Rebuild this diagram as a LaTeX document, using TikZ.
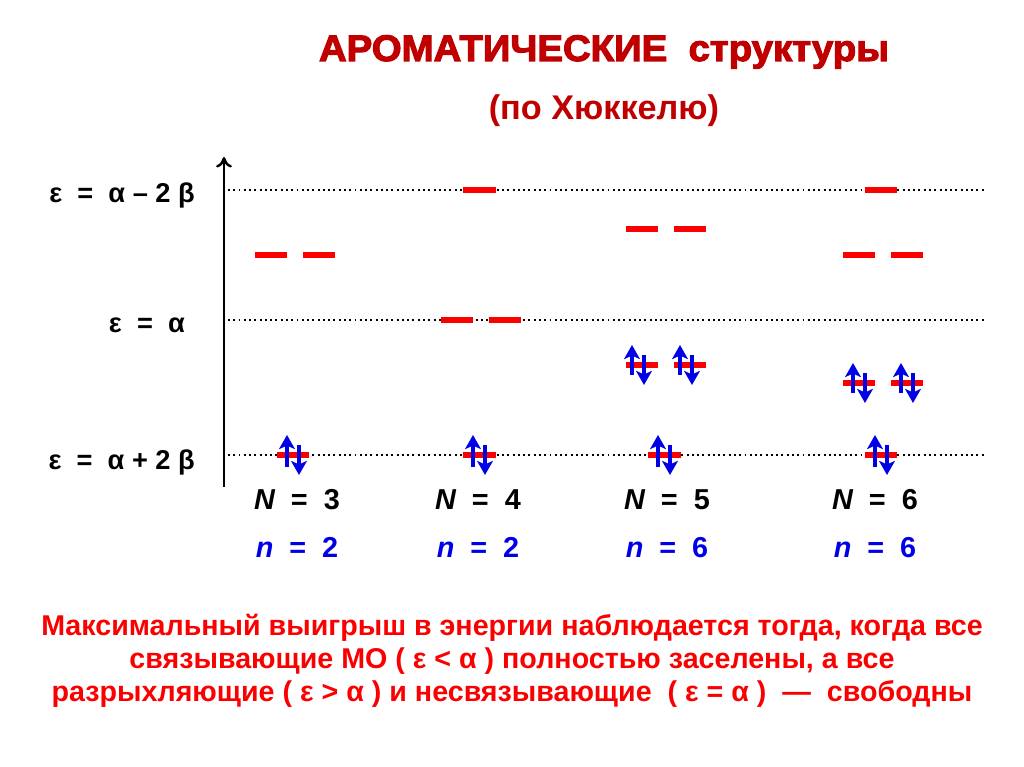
\documentclass[tikz,border=0pt]{standalone}
\usepackage{fontspec}
\setmainfont{Liberation Sans}
\newfontfamily\heavyfont[FakeStretch=1.04,FakeBold=3]{Liberation Sans Bold}
\usetikzlibrary{positioning,arrows.meta}
\definecolor{titlered}{RGB}{192,0,0}
\definecolor{levelred}{RGB}{250,0,0}
\definecolor{spinblue}{RGB}{0,0,230}

\begin{document}
\begin{tikzpicture}[
    x=0.02cm, y=-0.02cm,
    orbital/.style={draw=levelred, line width=3.4pt},
    spin/.style={-{Stealth[length=8pt, width=9pt, inset=2pt]}, draw=spinblue, line width=1.8pt},
    guide/.style={line width=1.1pt, dash pattern=on 1.1pt off 1.9pt},
    elabel/.style={anchor=base east, font=\bfseries\fontsize{15.5}{18}\selectfont},
    count/.style={anchor=base, font=\bfseries\itshape\fontsize{16.4}{19}\selectfont},
  ]
  \useasboundingbox (0,0) rectangle (1024,767);

  % Title
  \node[anchor=base, text=titlered, font=\heavyfont\fontsize{21}{24}\selectfont] (title) at (604,61)
    {АРОМАТИЧЕСКИЕ\ \ структуры};
  \node[anchor=base, text=titlered, font=\bfseries\fontsize{19.5}{22}\selectfont] (sub) at (604,119)
    {(по Хюккелю)};

  % Energy axis
  \coordinate (axbot) at (224,487);
  \coordinate (axtop) at (224,157);
  \draw[-{To[length=6pt, width=9pt]}, line width=1.4pt] (axbot) -- (axtop);

  % Reference levels
  \coordinate (g1a) at (228,190); \coordinate (g1b) at (986,190);
  \coordinate (g2a) at (228,320); \coordinate (g2b) at (986,320);
  \coordinate (g3a) at (228,455); \coordinate (g3b) at (986,455);
  \draw[guide] (g1a) -- (g1b);
  \draw[guide] (g2a) -- (g2b);
  \draw[guide] (g3a) -- (g3b);

  \node[elabel] (lev1) at (201,202) {ε\ \ =\ \ α – 2 β};
  \node[elabel] (lev2) at (191,332) {ε\ \ =\ \ α};
  \node[elabel] (lev3) at (201,469) {ε\ \ =\ \ α + 2 β};

  % N = 3
  \draw[orbital] (255,255) -- (287,255);
  \draw[orbital] (303,255) -- (335,255);
  \draw[orbital] (277,455) -- (309,455);
  \draw[spin] (287,467) -- (287,435);
  \draw[spin] (299,445) -- (299,475);

  % N = 4
  \draw[orbital] (463,190) -- (496,190);
  \draw[orbital] (441,320) -- (473,320);
  \draw[orbital] (489,320) -- (521,320);
  \draw[orbital] (463,455) -- (496,455);
  \draw[spin] (473,467) -- (473,435);
  \draw[spin] (485,445) -- (485,475);

  % N = 5
  \draw[orbital] (626,229) -- (658,229);
  \draw[orbital] (674,229) -- (706,229);
  \draw[orbital] (626,365) -- (658,365);
  \draw[orbital] (674,365) -- (706,365);
  \draw[spin] (632,375) -- (632,345);
  \draw[spin] (644,355) -- (644,385);
  \draw[spin] (680,375) -- (680,345);
  \draw[spin] (692,355) -- (692,385);
  \draw[orbital] (648,455) -- (681,455);
  \draw[spin] (658,467) -- (658,435);
  \draw[spin] (670,445) -- (670,475);

  % N = 6
  \draw[orbital] (865,190) -- (897,190);
  \draw[orbital] (843,255) -- (875,255);
  \draw[orbital] (891,255) -- (923,255);
  \draw[orbital] (843,383) -- (875,383);
  \draw[orbital] (891,383) -- (923,383);
  \draw[spin] (853,393) -- (853,363);
  \draw[spin] (865,373) -- (865,403);
  \draw[spin] (901,393) -- (901,363);
  \draw[spin] (913,373) -- (913,403);
  \draw[orbital] (865,455) -- (897,455);
  \draw[spin] (875,467) -- (875,435);
  \draw[spin] (887,445) -- (887,475);

  % Counts
  \node[count] (N3) at (297,509) {N\ \ {\upshape =}\ \ {\upshape 3}};
  \node[count] (N4) at (478,509) {N\ \ {\upshape =}\ \ {\upshape 4}};
  \node[count] (N5) at (667,509) {N\ \ {\upshape =}\ \ {\upshape 5}};
  \node[count] (N6) at (875,509) {N\ \ {\upshape =}\ \ {\upshape 6}};
  \node[count, text=spinblue] (n3) at (297,557) {n\ \ {\upshape =}\ \ {\upshape 2}};
  \node[count, text=spinblue] (n4) at (478,557) {n\ \ {\upshape =}\ \ {\upshape 2}};
  \node[count, text=spinblue] (n5) at (667,557) {n\ \ {\upshape =}\ \ {\upshape 6}};
  \node[count, text=spinblue] (n6) at (875,557) {n\ \ {\upshape =}\ \ {\upshape 6}};

  % Conclusion
  \node[text=levelred, align=center, font=\bfseries\fontsize{16.3}{18.7}\selectfont] (rule) at (512,661)
    {Максимальный выигрыш в энергии наблюдается тогда, когда все\\
     связывающие МО ( ε < α ) полностью заселены, а все\\
     разрыхляющие ( ε > α ) и несвязывающие\ \ ( ε = α )\ \ —\ \ свободны};
\end{tikzpicture}
\end{document}
